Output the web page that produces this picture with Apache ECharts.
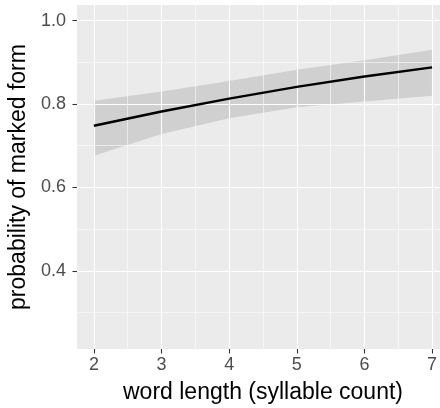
<!DOCTYPE html>
<html><head><meta charset="utf-8">
<script src="https://cdn.jsdelivr.net/npm/echarts@6/dist/echarts.min.js"></script>
<style>html,body{margin:0;padding:0;background:#fff}#c{width:440px;height:408px}</style>
</head><body><div id="c"></div>
<script>
var xs = [2, 3, 4, 5, 6, 7];
var fit = [0.748, 0.782, 0.813, 0.841, 0.866, 0.888];
var lower = [0.676, 0.728, 0.766, 0.792, 0.806, 0.820];
var upper = [0.808, 0.830, 0.855, 0.882, 0.905, 0.930];
var xTicks = [2, 3, 4, 5, 6, 7];
var xMinor = [2.5, 3.5, 4.5, 5.5, 6.5];
var yTicks = [0.4, 0.6, 0.8, 1.0];
var yMinor = [0.3, 0.5, 0.7, 0.9];
var xTitle = 'word length (syllable count)';
var yTitle = 'probability of marked form';

var font = 'Liberation Sans, Arial, Helvetica, sans-serif';
function gl(vals, axis, w) {
  return vals.map(function (v) {
    var o = {}; o[axis] = v;
    o.lineStyle = { color: '#ffffff', width: w, type: 'solid' };
    return o;
  });
}
var gridLines = [].concat(gl(xMinor, 'xAxis', 0.55), gl(yMinor, 'yAxis', 0.55),
  gl(xTicks, 'xAxis', 1.1), gl(yTicks, 'yAxis', 1.1));

var bandData = xs.map(function (x, i) { return [x, lower[i], upper[i]]; });

var chart = echarts.init(document.getElementById('c'), null, { renderer: 'canvas' });
chart.setOption({
  animation: false,
  backgroundColor: '#ffffff',
  grid: { left: 77, top: 5, width: 372, height: 344, show: true, backgroundColor: '#EBEBEB', borderWidth: 0,
    outerBoundsMode: 'none', containLabel: false },
  xAxis: {
    type: 'value', min: 1.75, max: 7.25,
    name: xTitle, nameLocation: 'middle', nameGap: 32,
    nameTextStyle: { color: '#000', fontSize: 23, fontFamily: font },
    axisLine: { show: false },
    splitLine: { show: false },
    axisTick: { show: true, length: 4.5, lineStyle: { color: '#333', width: 1.1 }, customValues: xTicks },
    axisLabel: { color: '#4D4D4D', fontSize: 18, fontFamily: font, margin: 7, customValues: xTicks,
      formatter: function (v) { return String(v); } }
  },
  yAxis: {
    type: 'value', min: 0.2125, max: 1.0375,
    name: yTitle, nameLocation: 'middle', nameGap: 41,
    nameTextStyle: { color: '#000', fontSize: 23, fontFamily: font },
    axisLine: { show: false },
    splitLine: { show: false },
    axisTick: { show: true, length: 4.5, lineStyle: { color: '#333', width: 1.1 }, customValues: yTicks },
    axisLabel: { color: '#4D4D4D', fontSize: 18, fontFamily: font, margin: 11, customValues: yTicks,
      formatter: function (v) { return v.toFixed(1); } }
  },
  series: [
    { type: 'line', data: [], silent: true,
      markLine: { silent: true, symbol: 'none', label: { show: false }, animation: false, data: gridLines } },
    { type: 'custom', data: bandData, silent: true, z: 3,
      encode: { x: 0, y: [1, 2] },
      renderItem: function (params, api) {
        if (params.dataIndex !== 0) return null;
        var pts = [];
        for (var i = 0; i < bandData.length; i++) pts.push(api.coord([bandData[i][0], bandData[i][2]]));
        for (var j = bandData.length - 1; j >= 0; j--) pts.push(api.coord([bandData[j][0], bandData[j][1]]));
        return { type: 'polygon', shape: { points: pts }, style: { fill: 'rgba(153,153,153,0.32)' } };
      } },
    { type: 'line', data: xs.map(function (x, i) { return [x, fit[i]]; }),
      symbol: 'none', lineStyle: { color: '#000', width: 2.4 }, silent: true, z: 5 }
  ]
});
</script></body></html>
